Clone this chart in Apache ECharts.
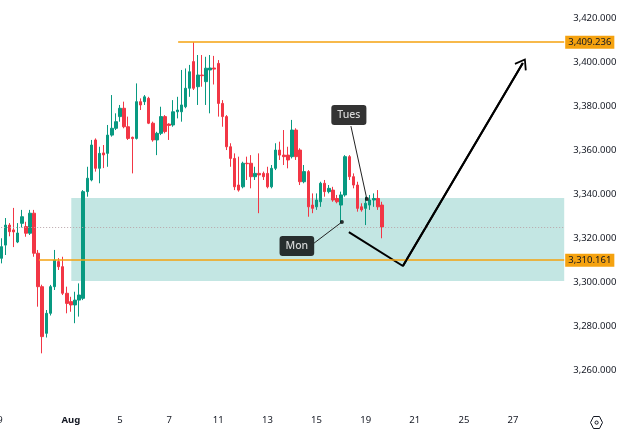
<!DOCTYPE html>
<html>
<head>
<meta charset="utf-8">
<script src="https://cdn.jsdelivr.net/npm/echarts@6/dist/echarts.min.js"></script>
<style>
  html, body { margin: 0; padding: 0; background: #fff; }
  #chart { width: 625px; height: 434px; }
</style>
</head>
<body>
<div id="chart"></div>
<script>
// trading days, 6 four-hour bars each
const days = ['Jul 29','Jul 30','Jul 31','Aug 1','Aug 4','Aug 5','Aug 6','Aug 7','Aug 8',
  'Aug 11','Aug 12','Aug 13','Aug 14','Aug 15','Aug 18','Aug 19','Aug 20','Aug 21','Aug 22',
  'Aug 25','Aug 26','Aug 27','Aug 28','Aug 29']
const barsPerDay = 6
const barCount = 139
const tickDays = ['Jul 29','Aug 1','Aug 5','Aug 7','Aug 11','Aug 13','Aug 15','Aug 19','Aug 21','Aug 25','Aug 27']
const tickLabels = ['29','Aug','5','7','11','13','15','19','21','25','27']

// candles (open / high / low / close)
const opens = [3313.0,3311.0,3317.0,3326.1,3323.9,3318.4,3326.9,3325.4,3322.4,3331.5,
  3313.3,3298.1,3276.9,3286.0,3298.1,3309.5,3307.2,3295.1,3291.3,3289.8,
  3292.0,3292.8,3341.3,3346.6,3364.8,3351.9,3358.9,3358.7,3367.0,3370.1,
  3375.4,3379.2,3370.8,3366.0,3365.5,3382.2,3382.2,3383.7,3372.4,3364.8,
  3367.8,3375.4,3372.0,3371.6,3377.6,3377.6,3379.9,3388.3,3400.4,3389.0,
  3394.3,3391.3,3396.6,3397.5,3399.6,3381.4,3375.4,3361.7,3356.4,3344.3,
  3343.5,3354.2,3354.2,3348.1,3349.6,3349.6,3349.6,3343.5,3351.9,3360.2,
  3357.9,3357.9,3357.2,3369.3,3360.2,3345.8,3350.4,3335.2,3334.4,3336.7,
  3345.1,3341.3,3342.0,3338.2,3335.2,3339.8,3357.2,3348.1,3344.3,3334.4,
  3333.7,3335.2,3337.5,3338.2,3335.2]
const highs = [3316.0,3320.1,3329.3,3327.0,3333.9,3327.0,3333.0,3327.6,3333.0,3333.0,
  3314.8,3299.0,3287.5,3298.9,3314.8,3311.1,3311.7,3298.1,3293.5,3295.8,
  3299.6,3342.0,3352.6,3364.8,3365.5,3361.7,3362.5,3371.6,3385.2,3376.9,
  3380.7,3382.2,3375.4,3366.3,3390.5,3383.7,3385.2,3384.4,3373.1,3368.5,
  3379.9,3376.1,3372.4,3382.9,3384.4,3396.6,3397.3,3398.9,3409.2,3403.4,
  3403.4,3402.6,3403.4,3403.0,3401.1,3382.9,3376.1,3363.3,3358.7,3357.2,
  3354.9,3357.2,3357.9,3352.6,3358.7,3350.4,3352.6,3353.4,3363.3,3364.0,
  3369.3,3361.7,3373.9,3370.1,3361.0,3353.4,3351.1,3340.5,3340.5,3345.8,
  3346.6,3344.3,3343.5,3339.8,3341.3,3357.9,3357.9,3349.6,3345.8,3336.0,
  3339.0,3339.8,3340.5,3342.0,3336.7]
const lows = [3306.5,3308.7,3312.5,3321.0,3316.1,3317.9,3325.0,3320.8,3321.6,3311.7,
  3289.0,3267.8,3275.0,3285.0,3296.6,3305.7,3294.3,3286.0,3286.7,3281.5,
  3284.5,3292.0,3339.0,3346.0,3350.4,3345.1,3352.0,3352.6,3366.3,3369.3,
  3373.1,3370.1,3364.8,3349.6,3365.0,3378.4,3380.7,3372.0,3364.0,3357.9,
  3367.0,3367.8,3364.8,3370.8,3374.6,3373.1,3379.2,3384.4,3387.5,3380.7,
  3389.0,3380.7,3376.9,3390.0,3375.4,3370.8,3360.2,3352.6,3342.0,3341.3,
  3342.8,3346.6,3342.8,3346.6,3331.5,3346.6,3342.8,3342.8,3351.1,3355.7,
  3353.4,3351.9,3356.4,3355.7,3344.3,3345.1,3329.9,3331.5,3333.0,3334.4,
  3339.0,3340.5,3336.7,3336.0,3326.9,3339.0,3346.6,3342.8,3332.2,3332.2,
  3326.1,3333.0,3334.4,3333.0,3320.1]
const closes = [3309.5,3316.3,3326.1,3323.1,3323.0,3322.5,3329.9,3322.4,3331.5,3313.3,
  3298.1,3275.4,3286.0,3298.1,3310.2,3307.2,3295.1,3290.5,3289.8,3292.0,
  3294.3,3341.3,3347.4,3362.5,3351.9,3358.7,3358.0,3367.0,3370.1,3373.1,
  3379.2,3370.8,3365.5,3365.4,3382.2,3380.7,3384.4,3372.4,3364.8,3367.8,
  3375.4,3368.6,3371.4,3377.6,3378.4,3380.7,3388.3,3395.8,3388.3,3394.3,
  3394.0,3397.4,3397.5,3397.0,3381.4,3375.4,3361.7,3356.4,3343.5,3342.0,
  3354.2,3354.0,3348.1,3349.6,3348.9,3348.1,3343.5,3351.9,3360.2,3357.9,
  3357.2,3355.7,3369.3,3357.2,3345.8,3350.4,3334.4,3333.7,3337.5,3345.1,
  3341.3,3342.8,3337.5,3336.7,3339.8,3357.2,3348.1,3344.3,3333.7,3333.0,
  3336.0,3337.5,3338.2,3334.4,3325.24]

const resistance = 3409.236
const support = 3310.161
const lastPrice = 3325.240
const countdown = '01:26:16'
const zone = [3338.4, 3300.7]
// drawn projection path (bar index, price)
const pathX = [85.9, 99.1, 128.4]
const pathY = [3322.9, 3307.5, 3399.8]

const up = '#089981'
const down = '#f23645'
const orange = '#f5a20f'
const ink = '#131722'

const cats = []
days.forEach(d => { for (let i = 0; i < barsPerDay; i++) cats.push(d + ' #' + i) })
cats.length = barCount
const candles = opens.map((o, i) => [o, closes[i], lows[i], highs[i]])

function fmt(v) {
  return v.toLocaleString('en-US', { minimumFractionDigits: 3, maximumFractionDigits: 3 })
}

const chart = echarts.init(document.getElementById('chart'))
chart.setOption({
  animation: false,
  backgroundColor: '#fff',
  textStyle: { fontFamily: 'Noto Sans' },
  grid: { left: -4.85, right: 60.8, top: 0, bottom: 19.5, containLabel: false, outerBoundsMode: 'none' },
  xAxis: [
    {
      type: 'category',
      data: cats,
      boundaryGap: true,
      axisLine: { show: false },
      axisTick: { show: false },
      splitLine: { show: false },
      axisLabel: {
        interval: 0,
        margin: 1,
        fontSize: 9.5,
        color: ink,
        formatter: (v) => {
          const [d, n] = v.split(' #')
          const idx = tickDays.indexOf(d)
          if (n !== '0' || idx < 0) return ''
          return tickLabels[idx] === 'Aug' ? '{b|Aug}' : tickLabels[idx]
        },
        rich: { b: { fontWeight: 'bold', fontSize: 9.5, color: ink } }
      }
    },
    { type: 'value', min: -0.5, max: barCount - 0.5, show: false }
  ],
  yAxis: {
    type: 'value',
    position: 'right',
    min: 3240,
    max: 3428.41,
    interval: 20,
    scale: true,
    axisLine: { show: false },
    axisTick: { show: false },
    splitLine: { show: false },
    axisLabel: {
      margin: 9,
      fontSize: 9.5,
      color: ink,
      formatter: (v) => (v % 20 === 0 && v >= 3260 && v <= 3420) ? fmt(v) : ''
    }
  },
  series: [
    {
      type: 'line',
      xAxisIndex: 1,
      data: [],
      clip: false,
      markArea: {
        silent: true,
        itemStyle: { color: 'rgba(38,166,154,0.28)' },
        data: [[{ coord: [18.1, zone[0]] }, { coord: [barCount - 0.5, zone[1]] }]]
      },
      markLine: {
        silent: true,
        symbol: 'none',
        label: {
          position: 'end',
          distance: 1,
          fontSize: 9.5,
          fontFamily: 'Noto Sans',
          padding: [2, 3, 1, 3]
        },
        data: [
          [
            { coord: [44.2, resistance], lineStyle: { color: orange, width: 1.5, type: 'solid' },
              label: { formatter: fmt(resistance), backgroundColor: orange, color: ink } },
            { coord: [barCount - 0.5, resistance] }
          ],
          [
            { coord: [10.2, support], lineStyle: { color: orange, width: 1.5, type: 'solid' },
              label: { formatter: fmt(support), backgroundColor: orange, color: ink } },
            { coord: [barCount - 0.5, support] }
          ],
          [
            { coord: [-0.5, lastPrice], lineStyle: { color: '#b9a6aa', width: 1, type: [1, 2] },
              label: { show: false } },
            { coord: [barCount - 0.5, lastPrice] }
          ],
          [
            { coord: [barCount - 1, lastPrice - 2.05], lineStyle: { opacity: 0 },
              label: { formatter: fmt(lastPrice) + '\n' + countdown, backgroundColor: down,
                color: '#fff', lineHeight: 12, padding: [2, 3, 1, 3] } },
            { coord: [barCount - 0.5, lastPrice - 2.05] }
          ]
        ]
      }
    },
    {
      type: 'candlestick',
      data: candles,
      barWidth: 3,
      itemStyle: { color: up, color0: down, borderColor: up, borderColor0: down, borderWidth: 1 }
    },
    {
      type: 'line',
      xAxisIndex: 1,
      data: pathX.map((x, i) => [x, pathY[i]]),
      symbol: 'none',
      lineStyle: { color: '#000', width: 2 },
      clip: false,
      markLine: {
        silent: true,
        lineStyle: { color: '#000', width: 2, type: 'solid' },
        label: { show: false },
        data: [[
          { coord: [pathX[1], pathY[1]], symbol: 'none' },
          { coord: [pathX[2], pathY[2]], symbol: 'path://M0,0 L10,13 L8,14.6 L0,4 L-8,14.6 L-10,13 Z', symbolSize: [14, 11] }
        ]]
      }
    },
    {
      type: 'scatter',
      xAxisIndex: 1,
      clip: false,
      itemStyle: { color: '#000' },
      data: [
        { value: [85.9, 3376.1], symbolSize: 0,
          label: { show: true, position: 'inside', formatter: 'Tues', color: '#fff', backgroundColor: '#000',
            borderRadius: 3, padding: [5, 6, 4, 6], fontSize: 10.5, fontWeight: 500 } },
        { value: [73.2, 3316.6], symbolSize: 0,
          label: { show: true, position: 'inside', formatter: 'Mon', color: '#fff', backgroundColor: '#000',
            borderRadius: 3, padding: [5, 6, 4, 6], fontSize: 10.5, fontWeight: 500 } },
        { value: [90.3, 3337.9], symbolSize: 4 },
        { value: [84.2, 3327.5], symbolSize: 4 }
      ],
      markLine: {
        silent: true,
        symbol: 'none',
        lineStyle: { color: '#222', width: 1, type: 'solid' },
        label: { show: false },
        data: [
          [{ coord: [86.4, 3371.1] }, { coord: [90.3, 3337.9] }],
          [{ coord: [77.4, 3317.9] }, { coord: [84.2, 3327.5] }]
        ]
      }
    }
  ],
  graphic: [
    { type: 'polygon', left: 588, top: 414,
      shape: { points: [[3, 0], [9, 0], [12, 6], [9, 12], [3, 12], [0, 6]] },
      style: { fill: 'none', stroke: ink, lineWidth: 1 } },
    { type: 'circle', left: 592.5, top: 418.5, shape: { r: 1.6 },
      style: { fill: 'none', stroke: ink, lineWidth: 1 } }
  ]
})
</script>
</body>
</html>
